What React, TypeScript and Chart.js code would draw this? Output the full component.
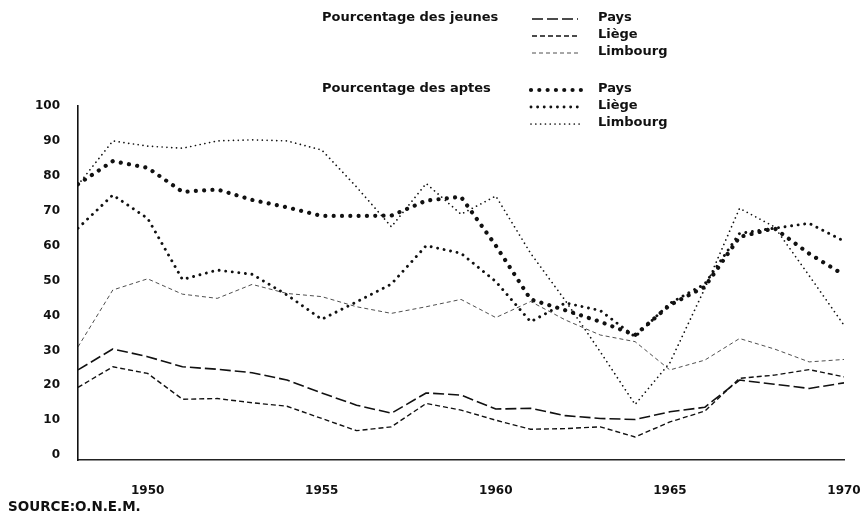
import React, { useEffect, useRef } from "react";
import { Chart, registerables } from "chart.js";

Chart.register(...registerables);

// ---------- data ----------
const years = [
  1948, 1949, 1950, 1951, 1952, 1953, 1954, 1955, 1956, 1957, 1958, 1959,
  1960, 1961, 1962, 1963, 1964, 1965, 1966, 1967, 1968, 1969, 1970,
];

const jeunesPays = [
  24.4, 30.4, 28.2, 25.3, 24.6, 23.6, 21.5, 17.8, 14.3, 12, 17.8, 17.2,
  13.2, 13.4, 11.3, 10.5, 10.2, 12.4, 13.7, 21.5, 20.3, 19.1, 20.7,
];
const jeunesLiege = [
  19.4, 25.3, 23.4, 16, 16.2, 15, 14, 10.5, 7, 8.1, 14.8, 12.9,
  10, 7.4, 7.6, 8.1, 5.2, 9.5, 12.6, 22, 22.9, 24.5, 22.4,
];
const jeunesLimbourg = [
  31, 47.3, 50.5, 46.1, 44.9, 48.9, 46.3, 45.4, 42.5, 40.6, 42.5, 44.6,
  39.4, 44, 38.7, 34.4, 32.5, 24.4, 27.2, 33.4, 30.4, 26.7, 27.4,
];
const aptesPays = [
  77.6, 84.2, 82.3, 75.4, 76.1, 73.1, 71, 68.5, 68.5, 68.6, 72.9, 74,
  60, 44.6, 41.5, 38.2, 34.4, 43, 48.2, 62.5, 65, 57.7, 51.6,
];
const aptesLiege = [
  65, 74.5, 67.8, 50.3, 53, 51.8, 45.9, 38.9, 43.9, 49, 60, 57.8,
  49.7, 38.2, 43.6, 41.4, 33.9, 43.5, 49, 63.5, 65, 66.4, 61.3,
];
const aptesLimbourg = [
  77.4, 90, 88.5, 87.9, 90, 90.3, 90, 87.4, 76.8, 65.4, 77.8, 69,
  74.2, 57.8, 44.2, 29.6, 14.5, 26.5, 47.7, 70.7, 65.4, 51.4, 37.2,
];

const yTicks = [0, 10, 20, 30, 40, 50, 60, 70, 80, 90, 100];
const xTicks = [1950, 1955, 1960, 1965, 1970];

const groupTitles = ["Pourcentage des jeunes", "Pourcentage des aptes"];
const regionNames = ["Pays", "Liège", "Limbourg"];
const sourceText = "SOURCE:O.N.E.M.";

// ---------- styles ----------
type LineStyle = { width: number; dash: number[]; cap: CanvasLineCap; color: string };

const jeunesStyles: LineStyle[] = [
  { width: 1.6, dash: [11, 4], cap: "butt", color: "#111" },
  { width: 1.4, dash: [5, 3], cap: "butt", color: "#111" },
  { width: 0.8, dash: [4, 3], cap: "butt", color: "#222" },
];
const aptesStyles: LineStyle[] = [
  { width: 4.2, dash: [0.01, 8.3], cap: "round", color: "#111" },
  { width: 2.9, dash: [0.01, 6.6], cap: "round", color: "#111" },
  { width: 1.7, dash: [0.01, 4.8], cap: "round", color: "#111" },
];

const FONT = '"DejaVu Sans", "Liberation Sans", sans-serif';

function toPoints(values: number[]) {
  return values.map((v, i) => ({ x: years[i], y: v }));
}

function makeDataset(label: string, values: number[], s: LineStyle) {
  return {
    label,
    data: toPoints(values),
    borderColor: s.color,
    borderWidth: s.width,
    borderDash: s.dash,
    borderCapStyle: s.cap,
    borderJoinStyle: "round" as const,
    pointRadius: 0,
    tension: 0,
    fill: false,
  };
}

const textPlugin = {
  id: "textPlugin",
  afterDraw(chart: any) {
    const ctx: CanvasRenderingContext2D = chart.ctx;
    ctx.save();
    ctx.fillStyle = "#111";
    ctx.textBaseline = "middle";
    ctx.textAlign = "left";
    ctx.font = `bold 13px ${FONT}`;

    const groupRows = [
      [18, 35, 52],
      [89, 106, 123],
    ];
    const styles = [jeunesStyles, aptesStyles];
    const sampleX = [
      [532, 578],
      [531, 583],
    ];
    groupTitles.forEach((title, g) => {
      ctx.fillText(title, 322, groupRows[g][0]);
      regionNames.forEach((name, r) => {
        const y = groupRows[g][r];
        const s = styles[g][r];
        ctx.save();
        ctx.strokeStyle = s.color;
        ctx.lineWidth = s.width;
        ctx.lineCap = s.cap;
        ctx.setLineDash(s.dash);
        ctx.beginPath();
        ctx.moveTo(sampleX[g][0], y + 1);
        ctx.lineTo(sampleX[g][1], y + 1);
        ctx.stroke();
        ctx.restore();
        ctx.fillText(name, 598, y);
      });
    });

    ctx.font = `bold 13.5px ${FONT}`;
    ctx.fillText(sourceText, 8, 507);
    ctx.restore();
  },
};

export default function App() {
  const ref = useRef<HTMLCanvasElement | null>(null);

  useEffect(() => {
    if (!ref.current) return;
    const datasets = [
      makeDataset("Jeunes Pays", jeunesPays, jeunesStyles[0]),
      makeDataset("Jeunes Liège", jeunesLiege, jeunesStyles[1]),
      makeDataset("Jeunes Limbourg", jeunesLimbourg, jeunesStyles[2]),
      makeDataset("Aptes Pays", aptesPays, aptesStyles[0]),
      makeDataset("Aptes Liège", aptesLiege, aptesStyles[1]),
      makeDataset("Aptes Limbourg", aptesLimbourg, aptesStyles[2]),
    ];
    const chart = new Chart(ref.current, {
      type: "line",
      data: { datasets: datasets as any },
      options: {
        responsive: false,
        animation: false,
        events: [],
        layout: { padding: { top: 106, right: 21, left: 0, bottom: 0 } },
        plugins: {
          legend: { display: false },
          tooltip: { enabled: false },
          title: { display: false },
        },
        scales: {
          x: {
            type: "linear",
            min: 1948,
            max: 1970,
            afterBuildTicks: (scale: any) => {
              scale.ticks = xTicks.map((v) => ({ value: v }));
            },
            afterFit: (scale: any) => {
              scale.height = 55;
              scale.paddingLeft = 0;
              scale.paddingRight = 0;
            },
            grid: { display: false, drawTicks: false },
            border: { display: true, color: "#222", width: 1.5 },
            ticks: {
              padding: 24,
              color: "#111",
              font: { family: FONT, size: 12, weight: "bold" },
              callback: (v: any) => String(v),
              maxRotation: 0,
              autoSkip: false,
            },
          },
          y: {
            type: "linear",
            min: -1.4,
            max: 100,
            afterBuildTicks: (scale: any) => {
              scale.ticks = yTicks.map((v) => ({ value: v }));
            },
            afterFit: (scale: any) => {
              scale.width = 78;
              scale.paddingTop = 0;
              scale.paddingBottom = 0;
            },
            grid: { display: false, drawTicks: false },
            border: { display: true, color: "#111", width: 1.6 },
            ticks: {
              padding: 18,
              color: "#111",
              font: { family: FONT, size: 12, weight: "bold" },
              callback: (v: any) => String(v),
              autoSkip: false,
            },
          },
        },
      },
      plugins: [textPlugin],
    });
    return () => chart.destroy();
  }, []);

  return (
    <div
      style={{
        position: "fixed",
        left: 0,
        top: 0,
        width: 865,
        height: 515,
        background: "#fff",
      }}
    >
      <canvas ref={ref} width={865} height={515} style={{ display: "block" }} />
    </div>
  );
}
